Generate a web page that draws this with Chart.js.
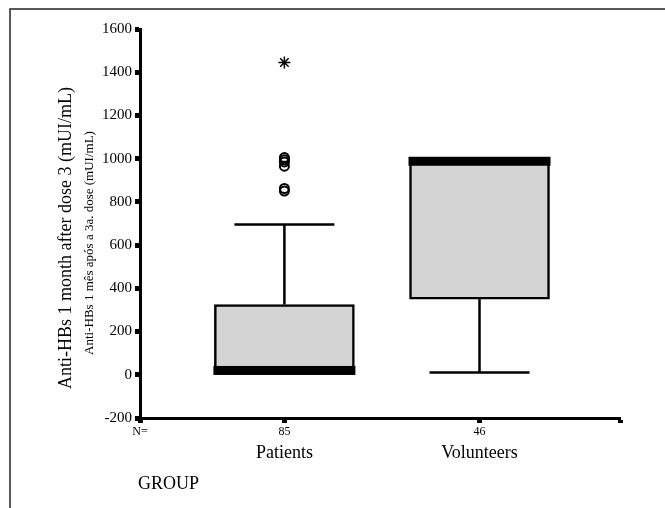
<!DOCTYPE html>
<html>
<head>
<meta charset="utf-8">
<script src="https://cdn.jsdelivr.net/npm/chart.js@4/dist/chart.umd.min.js"></script>
<style>
  html, body { margin: 0; padding: 0; background: #fff; }
  #wrap { width: 665px; height: 508px; position: relative; }
</style>
</head>
<body>
<div id="wrap"><canvas id="box"></canvas></div>
<script>
// groups and counts
const groups = ['Patients', 'Volunteers'];
const groupPos = [1, 2];
const xTickLabels = ['N=', '85', '46', ''];

// box plot values (mUI/mL)
const boxLow = [0, 350];
const boxHigh = [325, 1000];
const medians = [20, 988];
const whiskerLow = [0, 10];
const whiskerHigh = [695, 1000];

// patient outliers (circles) and extremes (asterisk)
const outliers = [1005, 995, 985, 965, 850, 862];
const extremes = [1445];

const yTitle = 'Anti-HBs 1 month after dose 3 (mUI/mL)';
const ySubTitle = 'Anti-HBs 1 mês após a 3a. dose (mUI/mL)';
const xTitle = 'GROUP';

const serif = '"Liberation Serif", "Times New Roman", serif';

const extras = {
    id: 'extras',
    afterDatasetsDraw(chart) {
        const ctx = chart.ctx;
        const xs = chart.scales.x, ys = chart.scales.y;
        ctx.save();
        ctx.strokeStyle = '#000';
        ctx.fillStyle = '#000';
        groupPos.forEach((p, i) => {
            let cx = xs.getPixelForValue(p);
            // whiskers
            ctx.lineWidth = 2.5;
            ctx.beginPath();
            ctx.moveTo(cx, ys.getPixelForValue(boxHigh[i]));
            ctx.lineTo(cx, ys.getPixelForValue(whiskerHigh[i]));
            ctx.moveTo(cx, ys.getPixelForValue(boxLow[i]));
            ctx.lineTo(cx, ys.getPixelForValue(whiskerLow[i]));
            ctx.stroke();
            // caps
            if (whiskerHigh[i] > boxHigh[i]) {
                let y = ys.getPixelForValue(whiskerHigh[i]);
                ctx.beginPath(); ctx.moveTo(cx - 50, y); ctx.lineTo(cx + 50, y); ctx.stroke();
            }
            if (whiskerLow[i] < boxLow[i]) {
                let y = ys.getPixelForValue(whiskerLow[i]);
                ctx.beginPath(); ctx.moveTo(cx - 50, y); ctx.lineTo(cx + 50, y); ctx.stroke();
            }
            // median band
            let my = ys.getPixelForValue(medians[i]);
            ctx.fillRect(cx - 71, my - 4.5, 142, 9);
        });
        ctx.restore();
    },
    afterDraw(chart) {
        const ctx = chart.ctx;
        const xs = chart.scales.x;
        ctx.save();
        // frame
        ctx.strokeStyle = '#222';
        ctx.lineWidth = 1.5;
        ctx.beginPath();
        ctx.moveTo(10, 508); ctx.lineTo(10, 9); ctx.lineTo(665, 9);
        ctx.stroke();
        ctx.fillStyle = '#000';
        // y titles
        ctx.textAlign = 'center';
        ctx.textBaseline = 'middle';
        ctx.save();
        ctx.translate(66, 238);
        ctx.rotate(-Math.PI / 2);
        ctx.font = '18px ' + serif;
        ctx.fillText(yTitle, 0, 0);
        ctx.restore();
        ctx.save();
        ctx.translate(90, 243);
        ctx.rotate(-Math.PI / 2);
        ctx.font = '13px ' + serif;
        ctx.fillText(ySubTitle, 0, 0);
        ctx.restore();
        // group names
        ctx.font = '18px ' + serif;
        groups.forEach((g, i) => {
            ctx.fillText(g, xs.getPixelForValue(groupPos[i]), 453);
        });
        ctx.textAlign = 'left';
        ctx.fillText(xTitle, 138, 484);
        ctx.restore();
    }
};

new Chart(document.getElementById('box'), {
    type: 'bar',
    data: {
        datasets: [{
            type: 'bar',
            data: groupPos.map((p, i) => ({x: p, y: [boxLow[i], boxHigh[i]]})),
            backgroundColor: '#d4d4d4',
            borderColor: '#000',
            borderWidth: 2.5,
            borderSkipped: false,
            barThickness: 140,
            grouped: false
        }, {
            type: 'scatter',
            data: outliers.map(v => ({x: groupPos[0], y: v})),
            pointStyle: 'circle',
            radius: 4.5,
            borderWidth: 2,
            borderColor: '#000',
            backgroundColor: 'rgba(0,0,0,0)'
        }, {
            type: 'scatter',
            data: extremes.map(v => ({x: groupPos[0], y: v})),
            pointStyle: 'star',
            radius: 6,
            borderWidth: 1.5,
            borderColor: '#000',
            backgroundColor: '#000'
        }]
    },
    options: {
        responsive: true,
        maintainAspectRatio: false,
        devicePixelRatio: 1,
        animation: false,
        layout: { padding: { top: 29, right: 45, left: 0, bottom: 0 } },
        plugins: { legend: { display: false }, tooltip: { enabled: false } },
        scales: {
            x: {
                type: 'linear',
                min: 0.26,
                max: 2.72,
                offset: false,
                afterFit: s => { s.height = 90; },
                afterBuildTicks: s => {
                    s.ticks = [s.min, groupPos[0], groupPos[1], s.max].map(v => ({value: v}));
                },
                ticks: {
                    autoSkip: false,
                    maxRotation: 0,
                    color: '#000',
                    padding: 2,
                    font: { family: serif, size: 12 },
                    callback: (v, i) => xTickLabels[i]
                },
                grid: {
                    offset: false,
                    drawOnChartArea: false,
                    tickLength: 5,
                    tickWidth: 5,
                    tickColor: '#000'
                },
                border: { display: true, color: '#000', width: 3 }
            },
            y: {
                min: -200,
                max: 1600,
                afterFit: s => { s.width = 140; },
                ticks: {
                    stepSize: 200,
                    color: '#000',
                    padding: 3,
                    font: { family: serif, size: 15 },
                    callback: v => String(v)
                },
                grid: {
                    offset: false,
                    drawOnChartArea: false,
                    tickLength: 5,
                    tickWidth: 5,
                    tickColor: '#000'
                },
                border: { display: true, color: '#000', width: 3 }
            }
        }
    },
    plugins: [extras]
});
</script>
</body>
</html>
